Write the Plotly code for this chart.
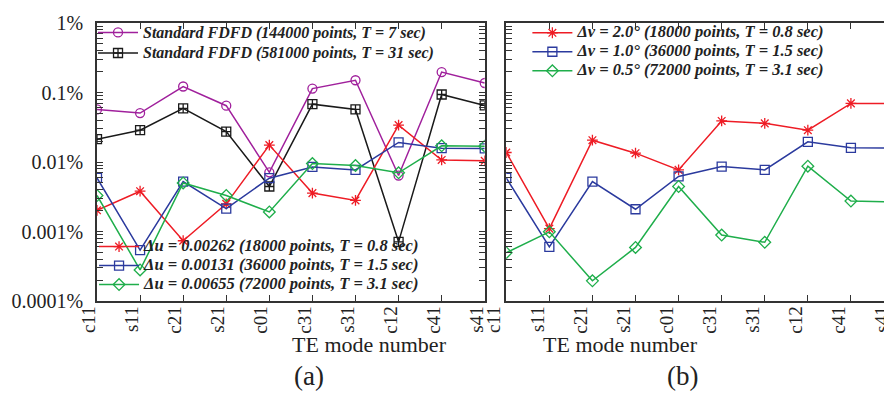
import plotly.graph_objects as go
from plotly.subplots import make_subplots

modes = ["c11", "s11", "c21", "s21", "c01", "c31", "s31", "c12", "c41", "s41"]

# Panel (a) errors in percent
std_144k = [0.057, 0.0506, 0.122, 0.0646, 0.0071, 0.114, 0.15, 0.00638, 0.197, 0.137]
std_581k = [0.0213, 0.0287, 0.059, 0.0274, 0.00444, 0.068, 0.057, 0.00071, 0.0936, 0.0652]
du_00262 = [0.00202, 0.0038, 0.000736, 0.0025, 0.0175, 0.00357, 0.0028, 0.034, 0.0107, 0.0104]
du_00131 = [0.0059, 0.00054, 0.00523, 0.00213, 0.00585, 0.0085, 0.0077, 0.0191, 0.0158, 0.0157]
du_00655 = [0.0033, 0.00028, 0.005, 0.0033, 0.00191, 0.0095, 0.0089, 0.007, 0.0171, 0.0169]

# Panel (b) errors in percent
dv_20 = [0.0137, 0.0011, 0.0206, 0.0134, 0.0077, 0.039, 0.036, 0.0287, 0.0697, 0.0697]
dv_10 = [0.0059, 0.0006, 0.00523, 0.00209, 0.0062, 0.0086, 0.0077, 0.0195, 0.016, 0.0158]
dv_05 = [0.000496, 0.00099, 0.000195, 0.00059, 0.00444, 0.00089, 0.0007, 0.0087, 0.00274, 0.00266]

decade_vals = [0.0001, 0.001, 0.01, 0.1, 1]
decade_text = ["0.0001%", "0.001%", "0.01%", "0.1%", "1%"]
minor_vals = [k * d for d in decade_vals[:-1] for k in range(2, 10)]

MAG = "#a0209c"
BLK = "#1a1a1a"
RED = "#ee1c25"
BLU = "#2b3a9e"
GRN = "#1fae4b"
SERIF = "Liberation Serif"

fig = make_subplots(rows=1, cols=2, horizontal_spacing=0.027, shared_yaxes=False)


def lbl(s, size):
    return '<span style="font-size:%spx">' % size + s + "</span>"


def add(vals, name, color, symbol, col, legend, size):
    fig.add_trace(go.Scatter(
        x=modes, y=vals, name=lbl(name, size), mode="lines+markers",
        line=dict(color=color, width=1.5),
        marker=dict(symbol=symbol, size=9, color=color, line=dict(color=color, width=1.3)),
        legend=legend), row=1, col=col)


add(std_144k, "Standard FDFD (144000 points, T = 7 sec)", MAG, "circle-open", 1, "legend", 16)
add(std_581k, "Standard FDFD (581000 points, T = 31 sec)", BLK, "square-cross-open", 1, "legend", 16)
add(du_00262, "Δu = 0.00262 (18000 points, T = 0.8 sec)", RED, "asterisk-open", 1, "legend2", 16.5)
add(du_00131, "Δu = 0.00131 (36000 points, T = 1.5 sec)", BLU, "square-open", 1, "legend2", 16.5)
add(du_00655, "Δu = 0.00655 (72000 points, T = 3.1 sec)", GRN, "diamond-open", 1, "legend2", 16.5)
add(dv_20, "Δv = 2.0° (18000 points, T = 0.8 sec)", RED, "asterisk-open", 2, "legend3", 16.5)
add(dv_10, "Δv = 1.0° (36000 points, T = 1.5 sec)", BLU, "square-open", 2, "legend3", 16.5)
add(dv_05, "Δv = 0.5° (72000 points, T = 3.1 sec)", GRN, "diamond-open", 2, "legend3", 16.5)

axis_common = dict(showline=True, linecolor="#333", linewidth=1.5, mirror="ticks",
                   ticks="inside", tickcolor="#333", showgrid=False, zeroline=False)

all_vals = decade_vals + minor_vals
for c in (1, 2):
    labels = (decade_text if c == 1 else [""] * len(decade_vals)) + [""] * len(minor_vals)
    fig.update_xaxes(row=1, col=c, type="category", range=[0, 9], tickangle=-90,
                     ticklen=6, tickwidth=1.2,
                     tickfont=dict(family=SERIF, size=19, color="#222"),
                     ticklabelstandoff=-4, ticklabelshift=(-8 if c == 1 else -12),
                     **axis_common)
    fig.update_yaxes(row=1, col=c, type="log", range=[-4, 0], tickmode="array",
                     tickvals=all_vals, ticktext=labels, ticklen=6, tickwidth=1,
                     tickfont=dict(family=SERIF, size=20, color="#222"),
                     ticklabelstandoff=8, **axis_common)

fig.update_layout(
    width=892, height=395,
    margin=dict(l=83, r=4, t=13, b=102),
    paper_bgcolor="white", plot_bgcolor="white",
    legend=dict(x=-0.005, y=1.021, xanchor="left", yanchor="top",
                font=dict(family=SERIF, size=13.5, color="#222", style="italic", weight="bold"),
                bgcolor="rgba(0,0,0,0)", itemwidth=40),
    legend2=dict(x=-0.0037, y=0.248, xanchor="left", yanchor="top",
                 font=dict(family=SERIF, size=12, color="#222", style="italic", weight="bold"),
                 bgcolor="rgba(0,0,0,0)", itemwidth=40),
    legend3=dict(x=0.54, y=1.017, xanchor="left", yanchor="top",
                 font=dict(family=SERIF, size=12, color="#222", style="italic", weight="bold"),
                 bgcolor="rgba(0,0,0,0)", itemwidth=40),
    annotations=[
        dict(text="TE mode number", x=0.242, y=-0.21, xref="paper", yref="paper",
             showarrow=False, font=dict(family=SERIF, size=22, color="#222")),
        dict(text="TE mode number", x=0.757, y=-0.21, xref="paper", yref="paper",
             showarrow=False, font=dict(family=SERIF, size=22, color="#222")),
        dict(text="(a)", x=0.245, y=-0.33, xref="paper", yref="paper",
             showarrow=False, font=dict(family=SERIF, size=27, color="#222")),
        dict(text="(b)", x=0.757, y=-0.33, xref="paper", yref="paper",
             showarrow=False, font=dict(family=SERIF, size=27, color="#222")),
    ],
)

fig.write_html("out.html")
